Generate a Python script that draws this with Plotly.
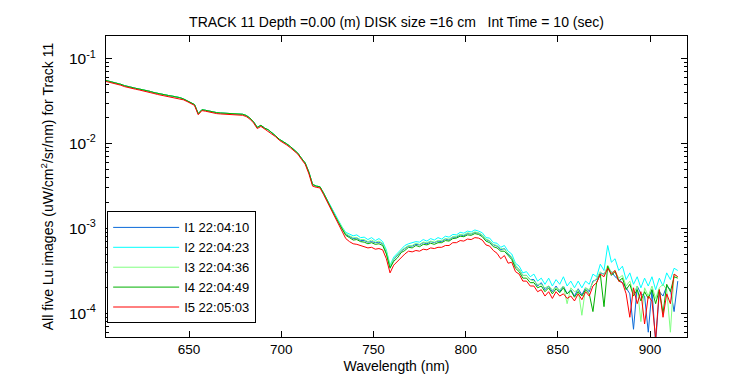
import plotly.graph_objects as go

# ---------------- data (values in units of 1e-4 uW/cm^2/sr/nm) ----------------
UNIT = 1e-4
wavelength = list(range(605, 916, 2))  # nm, 605 ... 915

# 605 - 723 nm : all images practically identical
head_common = [
    552, 540, 527, 513, 498, 480, 466, 455, 447, 438,
    430, 420, 410, 398, 388, 380, 374, 367, 361, 355,
    347, 335, 320, 305, 288, 225, 250, 246, 240, 234,
    231, 229, 228, 227, 227, 227, 226, 221, 214, 200,
    180, 155, 164, 152, 145, 135, 123, 112, 104, 99,
    92, 84, 77, 67, 59, 46, 33, 31.5, 31, 26,
]
head_red = [
    538, 527, 514, 500, 486, 468, 454, 444, 436, 427,
    419, 410, 400, 388, 378, 371, 365, 358, 352, 346,
    338, 327, 312, 297, 281, 218, 244, 240, 234, 228,
    225, 223, 222, 221, 221, 221, 220, 215, 208, 194,
    175, 150, 159, 148, 141, 131, 120, 109, 101, 96,
    89, 82, 75, 65, 57, 44, 31.5, 30.5, 30, 25,
]

# 725 - 915 nm
tail_I1 = [
    21.3, 17.8, 14.5, 12.1, 10.0, 8.5, 8.0, 7.6, 7.7, 7.2,
    7.2, 6.9, 7.0, 6.8, 6.9, 6.6, 5.2, 3.5, 4.3, 4.8,
    5.4, 5.8, 6.2, 6.2, 6.5, 6.4, 6.8, 6.6, 7.0, 6.8,
    7.1, 7.0, 7.5, 7.3, 7.9, 7.9, 8.4, 8.2, 8.7, 8.6,
    9.0, 8.8, 8.3, 7.4, 7.1, 6.4, 6.2, 5.6, 5.8, 5.0,
    4.5, 3.6, 3.3, 2.8, 2.8, 2.5, 2.5, 2.1, 2.3, 1.9,
    2.1, 1.8, 2.1, 1.8, 2.1, 1.7, 1.9, 1.6, 1.95, 1.65,
    2.0, 1.8, 2.4, 2.5, 3.0, 2.9, 3.4, 3.1, 2.7, 2.5,
    2.3, 2.0, 1.7, 0.65, 2.1, 1.7, 1.6, 0.6, 1.9, 0.45,
    1.8, 1.6, 2.1, 1.9, 1.05, 2.4,
]
tail_I2 = [
    21.5, 18.0, 14.8, 12.5, 10.4, 9.0, 8.6, 8.2, 8.4, 7.8,
    7.9, 7.4, 7.8, 7.2, 7.6, 7.0, 5.6, 3.7, 4.6, 5.1,
    5.8, 6.3, 6.6, 6.8, 7.0, 6.9, 7.4, 7.1, 7.6, 7.3,
    7.8, 7.5, 8.1, 7.9, 8.5, 8.4, 9.0, 8.8, 9.3, 9.1,
    9.6, 9.3, 8.9, 7.8, 7.7, 6.8, 6.7, 6.0, 6.3, 5.4,
    5.0, 3.9, 3.6, 3.0, 3.1, 2.7, 2.9, 2.4, 2.6, 2.2,
    2.6, 2.1, 2.5, 2.2, 2.7, 2.1, 2.4, 2.0, 2.4, 2.0,
    2.4, 2.2, 2.9, 2.7, 3.8, 3.2, 6.3, 4.0, 4.4, 3.2,
    3.6, 2.5, 3.0, 2.2, 2.7, 2.0, 2.6, 2.1, 2.7, 1.9,
    2.6, 2.1, 3.0, 2.5, 3.4, 3.2,
]
tail_I3 = [
    21.2, 17.7, 14.5, 12.2, 10.1, 8.7, 8.2, 7.8, 7.8, 7.4,
    7.4, 7.0, 7.3, 6.9, 7.1, 6.7, 5.4, 3.6, 4.4, 4.9,
    5.5, 5.9, 6.3, 6.3, 6.7, 6.5, 6.9, 6.8, 7.1, 6.9,
    7.2, 7.2, 7.6, 7.5, 8.0, 8.1, 8.5, 8.4, 8.9, 8.7,
    9.1, 8.9, 8.4, 7.5, 7.2, 6.5, 6.3, 5.8, 5.7, 5.1,
    4.6, 3.7, 3.3, 2.8, 2.8, 2.5, 2.4, 2.2, 2.2, 2.0,
    2.1, 1.9, 2.0, 1.9, 2.1, 1.3, 2.0, 1.8, 1.9, 0.95,
    2.0, 1.9, 2.3, 2.6, 3.1, 2.8, 3.7, 3.0, 3.2, 2.6,
    2.8, 2.1, 2.4, 1.7, 2.1, 0.8, 2.0, 1.6, 2.1, 1.5,
    2.0, 2.2, 1.9, 0.6, 2.9, 2.7,
]
tail_I4 = [
    21.0, 17.5, 14.2, 11.8, 9.7, 8.3, 7.8, 7.3, 7.4, 7.0,
    6.9, 6.6, 6.8, 6.5, 6.6, 6.3, 5.0, 3.4, 4.1, 4.5,
    5.2, 5.5, 6.0, 5.9, 6.3, 6.1, 6.5, 6.4, 6.7, 6.5,
    6.8, 6.8, 7.2, 7.1, 7.6, 7.7, 8.1, 8.0, 8.4, 8.3,
    8.7, 8.5, 8.0, 7.1, 6.8, 6.1, 5.9, 5.4, 5.4, 4.8,
    4.3, 3.4, 3.1, 2.6, 2.6, 2.3, 2.3, 2.0, 2.1, 1.8,
    2.0, 1.7, 1.95, 1.75, 2.0, 1.7, 1.85, 1.55, 1.8, 1.6,
    1.9, 1.7, 1.05, 2.3, 2.9, 1.2, 3.6, 2.8, 3.1, 2.4,
    2.6, 1.9, 2.2, 1.6, 1.9, 1.4, 1.8, 1.5, 1.9, 1.3,
    1.9, 1.0, 2.2, 1.8, 2.7, 2.6,
]
tail_I5 = [
    20.5, 17.0, 13.6, 11.0, 9.0, 7.6, 7.0, 6.6, 6.5, 6.3,
    6.2, 5.9, 6.0, 5.7, 5.8, 5.6, 4.4, 3.0, 3.7, 4.1,
    4.6, 5.0, 5.4, 5.3, 5.5, 5.4, 5.7, 5.6, 5.9, 5.8,
    6.0, 6.0, 6.3, 6.3, 6.8, 6.8, 7.2, 7.1, 7.5, 7.4,
    7.8, 7.7, 7.3, 6.4, 6.2, 5.5, 5.1, 4.4, 4.8, 3.9,
    4.0, 3.1, 2.9, 2.4, 2.4, 2.1, 2.1, 1.8, 1.9, 1.6,
    1.8, 1.5, 1.8, 1.6, 1.7, 1.5, 1.6, 1.4, 1.7, 1.45,
    1.8, 1.6, 2.1, 2.3, 2.9, 2.7, 3.4, 2.9, 3.2, 2.4,
    2.3, 1.7, 0.9, 2.0, 1.3, 1.8, 0.75, 1.6, 1.4, 0.5,
    1.9, 0.9, 1.7, 1.3, 2.9, 2.7,
]

series_names = ["I1 22:04:10", "I2 22:04:23", "I3 22:04:36", "I4 22:04:49", "I5 22:05:03"]
series_values = [
    head_common + tail_I1,
    head_common + tail_I2,
    head_common + tail_I3,
    head_common + tail_I4,
    head_red + tail_I5,
]
series_colors = ["#0a6ad8", "#00ffff", "#80ff80", "#00b000", "#ff0000"]

y_tickvals = [1e-4, 1e-3, 1e-2, 1e-1]
y_ticktext = ["10<sup>-4</sup>", "10<sup>-3</sup>", "10<sup>-2</sup>", "10<sup>-1</sup>"]
y_minor = [m * d for d in [1e-5, 1e-4, 1e-3, 1e-2] for m in range(2, 10)]
x_tickvals = [650, 700, 750, 800, 850, 900]

# ---------------- figure ----------------
FONT = "Liberation Sans, Arial, Helvetica, sans-serif"
fig = go.Figure()
for name, vals, col in zip(series_names, series_values, series_colors):
    fig.add_trace(go.Scatter(
        x=wavelength, y=[v * UNIT for v in vals], mode="lines", name=name,
        line=dict(color=col, width=1),
    ))

fig.update_layout(
    width=750, height=375,
    margin=dict(l=98, r=71, t=28, b=44),
    paper_bgcolor="white", plot_bgcolor="white",
    font=dict(family=FONT, size=14, color="black"),
    title=dict(text="TRACK 11 Depth =0.00 (m) DISK size =16 cm   Int Time = 10 (sec)",
               x=0.5, xref="paper", xanchor="center",
               y=1 - 14 / 375, yref="container", yanchor="middle",
               font=dict(size=14)),
    showlegend=True,
    legend=dict(x=0.002, xanchor="left", y=0.045, yanchor="bottom",
                bordercolor="black", borderwidth=1, bgcolor="white",
                font=dict(size=13), itemwidth=66, tracegroupgap=0),
)
fig.update_xaxes(
    range=[605, 920], tickvals=x_tickvals,
    showline=True, linecolor="black", linewidth=1, mirror="ticks",
    ticks="inside", ticklen=6, tickcolor="black", showgrid=False, zeroline=False,
    tickfont=dict(size=13.5),
    title=dict(text="Wavelength (nm)", font=dict(size=14), standoff=4),
)
fig.update_yaxes(
    type="log", range=[-4.278, -0.734],
    tickvals=y_tickvals, ticktext=y_ticktext,
    showline=True, linecolor="black", linewidth=1, mirror="ticks",
    ticks="inside", ticklen=6, tickcolor="black", showgrid=False, zeroline=False,
    minor=dict(tickvals=y_minor, ticks="inside", ticklen=3, tickcolor="black", showgrid=False),
    ticklabelstandoff=6,
    tickfont=dict(size=15.5),
    title=dict(text="All five Lu images (uW/cm<sup>2</sup>/sr/nm) for Track 11",
               font=dict(size=14), standoff=12),
)

fig.write_html("out.html")
